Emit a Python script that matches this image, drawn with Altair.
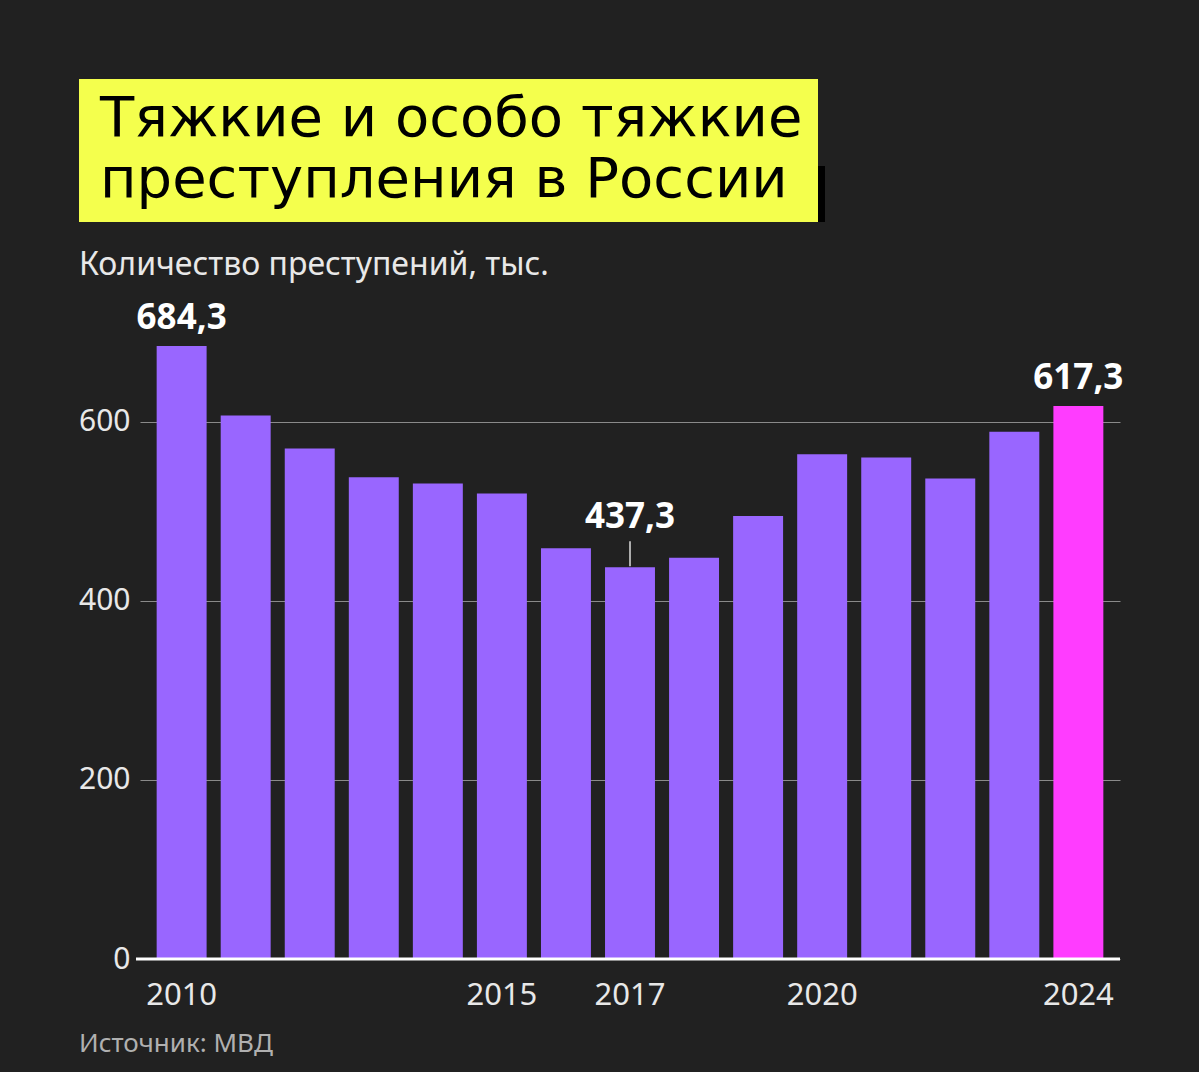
import json
import altair as alt
import pandas as pd

years = [str(y) for y in range(2010, 2025)]
values = [684.3, 606.7, 569.8, 537.9, 530.8, 519.6, 458.6, 437.3, 448.1, 494.7,
          563.6, 559.8, 536.4, 588.5, 617.3]
shown_years = ["2010", "2015", "2017", "2020", "2024"]
highlight_year = "2024"
top_labeled = ["2010", "2024"]
leader_labeled = ["2017"]
y_ticks = [0, 200, 400, 600]
title_lines = ["Тяжкие и особо тяжкие", "преступления в России"]
subtitle = "Количество преступений, тыс."
source = "Источник: МВД"

BG = "#212121"
BAR = "#9966ff"
HIGHLIGHT = "#ff3cff"
YELLOW = "#f4ff4d"
TXT = "#e8e8e8"

df = pd.DataFrame({"year": years, "value": values})
df["label"] = df["value"].map(lambda v: f"{v:.1f}".replace(".", ","))
df["group"] = ["highlight" if y == highlight_year else "base" for y in years]

W, H = 980, 627
PAD = {"left": 140, "top": 332, "right": 79, "bottom": 113}

label_expr = f"indexof({json.dumps(shown_years)}, datum.value) >= 0 ? datum.value : ''"

X = alt.X(
    "year:O",
    sort=years,
    scale=alt.Scale(paddingInner=0.22, paddingOuter=0.26),
    axis=alt.Axis(title=None, labelExpr=label_expr, ticks=False, domain=False,
                  labelAngle=0, labelFontSize=31, labelColor=TXT, labelPadding=21,
                  labelFont="Noto Sans", grid=False),
)
Y = alt.Y(
    "value:Q",
    scale=alt.Scale(domain=[0, 700], nice=False, zero=True),
    axis=alt.Axis(values=y_ticks, title=None, grid=True, gridColor="#8a8a8a",
                  gridWidth=1, domain=False, ticks=False, labelPadding=10,
                  labelFontSize=30, labelColor=TXT, labelFont="Noto Sans"),
)

bars = alt.Chart(df).mark_bar().encode(
    x=X,
    y=Y,
    color=alt.Color("group:N", scale=alt.Scale(domain=["base", "highlight"],
                                               range=[BAR, HIGHLIGHT]), legend=None),
)

zero = alt.Chart(pd.DataFrame({"value": [0]})).mark_rule(
    color="white", strokeWidth=3
).encode(y=Y, x=alt.value(-4), x2=alt.value(W))

top_text = alt.Chart(df).transform_filter(
    alt.FieldOneOfPredicate(field="year", oneOf=top_labeled)
).mark_text(dy=-17, baseline="alphabetic", fontSize=35, fontWeight="bold",
            color="white", font="Noto Sans").encode(x=X, y=Y, text="label:N")

lead_text = alt.Chart(df).transform_filter(
    alt.FieldOneOfPredicate(field="year", oneOf=leader_labeled)
).mark_text(dy=-39, baseline="alphabetic", fontSize=35, fontWeight="bold",
            color="white", font="Noto Sans").encode(x=X, y=Y, text="label:N")

lead_rule = alt.Chart(df).transform_filter(
    alt.FieldOneOfPredicate(field="year", oneOf=leader_labeled)
).mark_rule(color="#dddddd", strokeWidth=1.5, yOffset=-26, y2Offset=-1).encode(
    x=X, y=Y, y2="value:Q")

one = pd.DataFrame({"t": [""]})
shadow = alt.Chart(one).mark_rect(color="#000000").encode(
    x=alt.value(677), x2=alt.value(685), y=alt.value(-166), y2=alt.value(-110))
box = alt.Chart(one).mark_rect(color=YELLOW).encode(
    x=alt.value(-61), x2=alt.value(678), y=alt.value(-253), y2=alt.value(-110))

title1 = alt.Chart(pd.DataFrame({"t": [title_lines[0]]})).mark_text(
    align="left", baseline="alphabetic", fontSize=56, color="#000000",
    font="DejaVu Sans"
).encode(x=alt.value(-40), y=alt.value(-196), text="t:N")
title2 = alt.Chart(pd.DataFrame({"t": [title_lines[1]]})).mark_text(
    align="left", baseline="alphabetic", fontSize=56, color="#000000",
    font="DejaVu Sans"
).encode(x=alt.value(-40), y=alt.value(-135), text="t:N")

sub = alt.Chart(pd.DataFrame({"t": [subtitle]})).mark_text(
    align="left", baseline="alphabetic", fontSize=32, color=TXT, font="Noto Sans"
).encode(x=alt.value(-61), y=alt.value(-57), text="t:N")

src = alt.Chart(pd.DataFrame({"t": [source]})).mark_text(
    align="left", baseline="alphabetic", fontSize=26, color="#b0b0b0", font="Noto Sans"
).encode(x=alt.value(-61), y=alt.value(720), text="t:N")

chart = alt.layer(
    bars, zero, top_text, lead_text, lead_rule, shadow, box, title1, title2, sub, src
).properties(
    width=W, height=H,
    autosize=alt.AutoSizeParams(type="none"),
    padding=PAD,
    background=BG,
).configure_view(stroke=None)

chart.save("out.html", embed_options={"renderer": "svg", "actions": False})
